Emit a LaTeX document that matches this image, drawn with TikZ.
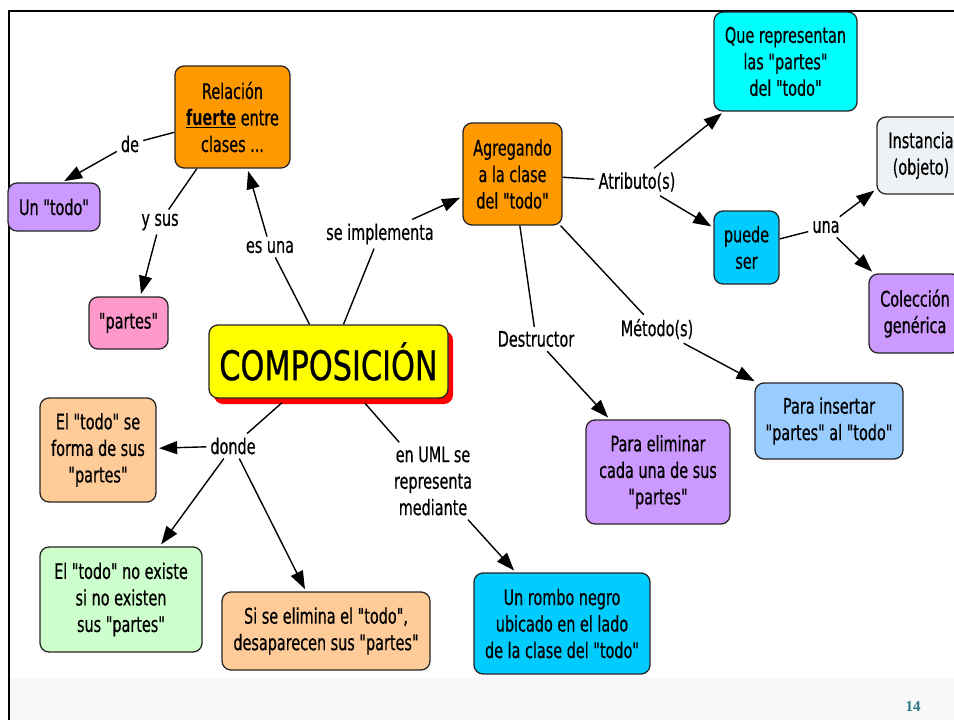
\documentclass[tikz,border=0pt]{standalone}
\usepackage{fontspec}
\setmainfont{DejaVu Sans}[FakeStretch=0.67, Ligatures=TeXOff, FakeBold=0.5, BoldFeatures={FakeBold=0}]
\newfontfamily\compfont{DejaVu Sans}[FakeStretch=0.74, Ligatures=TeXOff, FakeBold=0.6]
\newfontfamily\pgnumfont{Liberation Serif}
\usetikzlibrary{arrows.meta,shadows}
\definecolor{corange}{HTML}{FF9900}
\definecolor{cpurple}{HTML}{CC99FF}
\definecolor{cpink}{HTML}{FF99CC}
\definecolor{cyellow}{HTML}{FFFF00}
\definecolor{ccyan}{HTML}{00FFFF}
\definecolor{cgray}{HTML}{EEF2F4}
\definecolor{cblue}{HTML}{00CCFF}
\definecolor{clblue}{HTML}{99CCFF}
\definecolor{cpeach}{HTML}{FFCC99}
\definecolor{cgreen}{HTML}{CCFFCC}
\definecolor{cteal}{HTML}{2A7385}
\definecolor{cband}{HTML}{F8F8F8}
\tikzset{
  box/.style={draw=black!85, line width=1.3pt, rounded corners=9pt, align=center,
    font=\fontsize{21.5}{26.5}\selectfont, inner sep=2pt},
  lbl/.style={align=center, font=\fontsize{21.5}{26.5}\selectfont, inner sep=4pt},
  con/.style={line width=1.4pt},
  arr/.style={con, -{Triangle[length=18pt,width=13pt]}, shorten >=2.5pt},
}
\begin{document}
\begin{tikzpicture}[x=1pt,y=-1pt]
\useasboundingbox (0,0) rectangle (954,720);
\clip (0,0) rectangle (954,720);
\fill[white] (0,0) rectangle (954,720);
% bottom band and frame
\fill[cband] (10,678) rectangle (954,720);
\draw[line width=2.6pt] (9,720) -- (9,11) -- (954,11);
\node[text=cteal, font=\pgnumfont\bfseries\fontsize{15}{17}\selectfont] (pg) at (913,707) {14};

% boxes
\node[box, fill=corange, minimum width=115pt, minimum height=102pt] (rel) at (232.5,117)
  {Relación\\\underline{\textbf{fuerte}} entre\\clases ...};
\node[box, fill=cpurple, minimum width=92pt, minimum height=48pt] (todo) at (54,207) {Un "todo"};
\node[box, fill=cpink, minimum width=79pt, minimum height=52pt] (partes) at (128.5,323) {"partes"};
\node[box, fill=cyellow, minimum width=239pt, minimum height=73pt,
  drop shadow={fill=red, opacity=1, shadow xshift=5pt, shadow yshift=-6pt},
  font=\compfont\fontsize{41}{44}\selectfont] (comp) at (328.5,361.5) {COMPOSICIÓN};
\node[box, fill=corange, minimum width=99pt, minimum height=102pt] (agr) at (512.5,174)
  {Agregando\\a la clase\\del "todo"};
\node[box, fill=ccyan, minimum width=143pt, minimum height=99pt] (que) at (785.5,61.5)
  {Que representan\\las "partes"\\del "todo"};
\node[box, fill=cgray, minimum width=88pt, minimum height=77pt] (inst) at (921,155.5)
  {Instancia\\(objeto)};
\node[box, fill=cblue, minimum width=65pt, minimum height=73pt] (puede) at (746.5,247.5)
  {puede\\ser};
\node[box, fill=cpurple, minimum width=92pt, minimum height=79pt] (colec) at (915,313.5)
  {Colección\\genérica};
\node[box, fill=clblue, minimum width=148pt, minimum height=76pt] (ins) at (829,421)
  {Para insertar\\"partes" al "todo"};
\node[box, fill=cpurple, minimum width=144pt, minimum height=104pt] (elim) at (658,472)
  {Para eliminar\\cada una de sus\\"partes"};
\node[box, fill=cpeach, minimum width=116pt, minimum height=104pt] (forma) at (98,450)
  {El "todo" se\\forma de sus\\"partes"};
\node[box, fill=cgreen, minimum width=162pt, minimum height=105pt] (noex) at (121,599.5)
  {El "todo" no existe\\si no existen\\sus "partes"};
\node[box, fill=cpeach, minimum width=208pt, minimum height=78pt] (sielim) at (326,631)
  {Si se elimina el "todo",\\desaparecen sus "partes"};
\node[box, fill=cblue, minimum width=176pt, minimum height=101pt] (rombo) at (562,623.5)
  {Un rombo negro\\ubicado en el lado\\de la clase del "todo"};

% linking labels
\node[lbl] (lde) at (130,144) {de};
\node[lbl] (lysus) at (160,222) {y sus};
\node[lbl] (lesuna) at (270,247) {es una};
\node[lbl] (lseimp) at (380,234) {se implementa};
\node[lbl] (latr) at (637,182) {Atributo(s)};
\node[lbl] (luna) at (826,227) {una};
\node[lbl] (ldest) at (536,339) {Destructor};
\node[lbl] (lmet) at (657,329) {Método(s)};
\node[lbl] (ldonde) at (233,446) {donde};
\node[lbl] (luml) at (433,481) {en UML se\\representa\\mediante};

% connectors
\draw[con] (rel) -- (lde);
\draw[arr] (lde) -- (todo.72);
\draw[con] (rel) -- (lysus);
\draw[arr] (lysus) -- (partes.66);
\draw[con] (comp) -- (lesuna);
\draw[arr] (lesuna) -- (rel);
\draw[con] (comp) -- (lseimp);
\draw[arr] (lseimp) -- (agr);
\draw[con] (agr) -- (latr);
\draw[arr] (latr) -- (que);
\draw[arr] (latr) -- (puede);
\draw[con] (puede) -- (luna);
\draw[arr] (luna) -- (inst);
\draw[arr] (luna) -- (colec);
\draw[con] (agr) -- (ldest);
\draw[arr] (ldest) -- (elim);
\draw[con] (agr) -- (lmet);
\draw[arr] (lmet) -- (ins);
\draw[con, shorten <=6pt] (comp) -- (ldonde);
\draw[arr] (ldonde) -- (forma);
\draw[arr] (ldonde) -- (noex);
\draw[arr] (ldonde) -- (sielim);
\draw[con, shorten <=6pt] (comp) -- (luml);
\draw[arr] (luml) -- (rombo);
\end{tikzpicture}
\end{document}
